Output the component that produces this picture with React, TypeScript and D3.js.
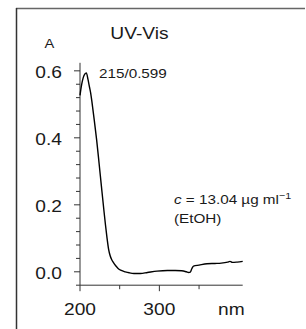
import React from "react";
import * as d3 from "d3";

const wavelengths = [200, 202, 204, 206, 208, 210, 212, 213.5, 215, 218, 221, 224, 227, 230, 232, 234, 236, 238, 240, 242, 245, 248, 252, 257, 262, 268, 276, 285, 297, 310, 320, 328, 334, 337, 339, 341, 343, 350, 360, 370, 378, 386, 389, 392, 398, 405];
const absorbance = [0.527, 0.558, 0.579, 0.590, 0.594, 0.575, 0.551, 0.533, 0.508, 0.452, 0.393, 0.325, 0.255, 0.186, 0.142, 0.102, 0.068, 0.048, 0.036, 0.028, 0.018, 0.010, 0.004, 0.000, -0.003, -0.005, -0.005, -0.002, 0.002, 0.004, 0.004, 0.003, 0.000, -0.002, -0.001, 0.010, 0.017, 0.020, 0.024, 0.025, 0.026, 0.029, 0.031, 0.028, 0.029, 0.031];
const yMajorTicks = [0, 0.2, 0.4, 0.6];
const yTickLabels = ["0.0", "0.2", "0.4", "0.6"];
const xMajorTicks = [200, 300];
const xTickLabels = ["200", "300"];
const xMinorTicks = [250, 350];

const FONT = "'Liberation Sans', Arial, Helvetica, sans-serif";
const SX = 1.13;

function Txt(props: { x: number; y: number; size: number; anchor?: string; sx?: number; children: React.ReactNode }) {
  const { x, y, size, anchor = "start", sx = SX, children } = props;
  return (
    <text
      transform={`translate(${x},${y}) scale(${sx},1)`}
      fontFamily={FONT}
      fontSize={size}
      textAnchor={anchor}
      fill="#1a1a1a"
    >
      {children}
    </text>
  );
}

export default function App() {
  const x = d3.scaleLinear().domain([200, 405]).range([80, 242.7]);
  const y = d3.scaleLinear().domain([-0.04, 0.624]).range([285.2, 62.8]);
  const data = wavelengths.map((w, i) => [w, absorbance[i]] as [number, number]);
  const line = d3
    .line<[number, number]>()
    .x((d) => x(d[0]))
    .y((d) => y(d[1]))
    .curve(d3.curveMonotoneX);

  const yMinor: number[] = [];
  for (let k = -1; k <= 15; k++) if (k % 5 !== 0) yMinor.push(k * 0.04);

  const axisColor = "#333";
  const x0 = x(200);
  const yBottom = y(-0.04);

  return (
    <svg width={306} height={329} style={{ position: "absolute", left: 0, top: 0, background: "#fff" }}>
      {/* frame */}
      <line x1={16} y1={8.5} x2={305} y2={8.5} stroke="#666" strokeWidth={1.5} />
      <line x1={16.5} y1={8} x2={16.5} y2={329} stroke="#333" strokeWidth={1.5} />

      {/* y axis */}
      <line x1={x0} y1={y(0.624)} x2={x0} y2={yBottom} stroke={axisColor} strokeWidth={1} />
      {yMajorTicks.map((t) => (
        <line key={"ym" + t} x1={x0 - 6} x2={x0} y1={y(t)} y2={y(t)} stroke={axisColor} strokeWidth={1} />
      ))}
      {yMinor.map((t) => (
        <line key={"yn" + t} x1={x0 - 4} x2={x0} y1={y(t)} y2={y(t)} stroke={axisColor} strokeWidth={1} />
      ))}
      {yMajorTicks.map((t, i) => (
        <Txt key={"yl" + t} x={62} y={y(t) + 7} size={17} anchor="end">
          {yTickLabels[i]}
        </Txt>
      ))}

      {/* x axis */}
      <line x1={x0} y1={yBottom} x2={x(405)} y2={yBottom} stroke={axisColor} strokeWidth={1} />
      {xMajorTicks.map((t) => (
        <line key={"xm" + t} x1={x(t)} x2={x(t)} y1={yBottom} y2={yBottom + 6} stroke={axisColor} strokeWidth={1} />
      ))}
      {xMinorTicks.map((t) => (
        <line key={"xn" + t} x1={x(t)} x2={x(t)} y1={yBottom} y2={yBottom + 4} stroke={axisColor} strokeWidth={1} />
      ))}
      {xMajorTicks.map((t, i) => (
        <Txt key={"xl" + t} x={x(t)} y={315} size={17} anchor="middle">
          {xTickLabels[i]}
        </Txt>
      ))}
      <Txt x={218} y={315} size={17}>nm</Txt>

      {/* curve */}
      <path d={line(data) || ""} fill="none" stroke="#000" strokeWidth={1.4} />

      {/* texts */}
      <Txt x={139.5} y={39} size={17} anchor="middle">UV-Vis</Txt>
      <Txt x={49.5} y={48} size={13} anchor="middle">A</Txt>
      <Txt x={99} y={78} size={13.5}>215/0.599</Txt>
      <Txt x={174} y={204} size={13.5}>
        <tspan fontStyle="italic">c</tspan> = 13.04 µg ml
        <tspan fontSize={9.5} dy={-5}>−1</tspan>
      </Txt>
      <Txt x={174} y={223} size={13.5}>(EtOH)</Txt>
    </svg>
  );
}
